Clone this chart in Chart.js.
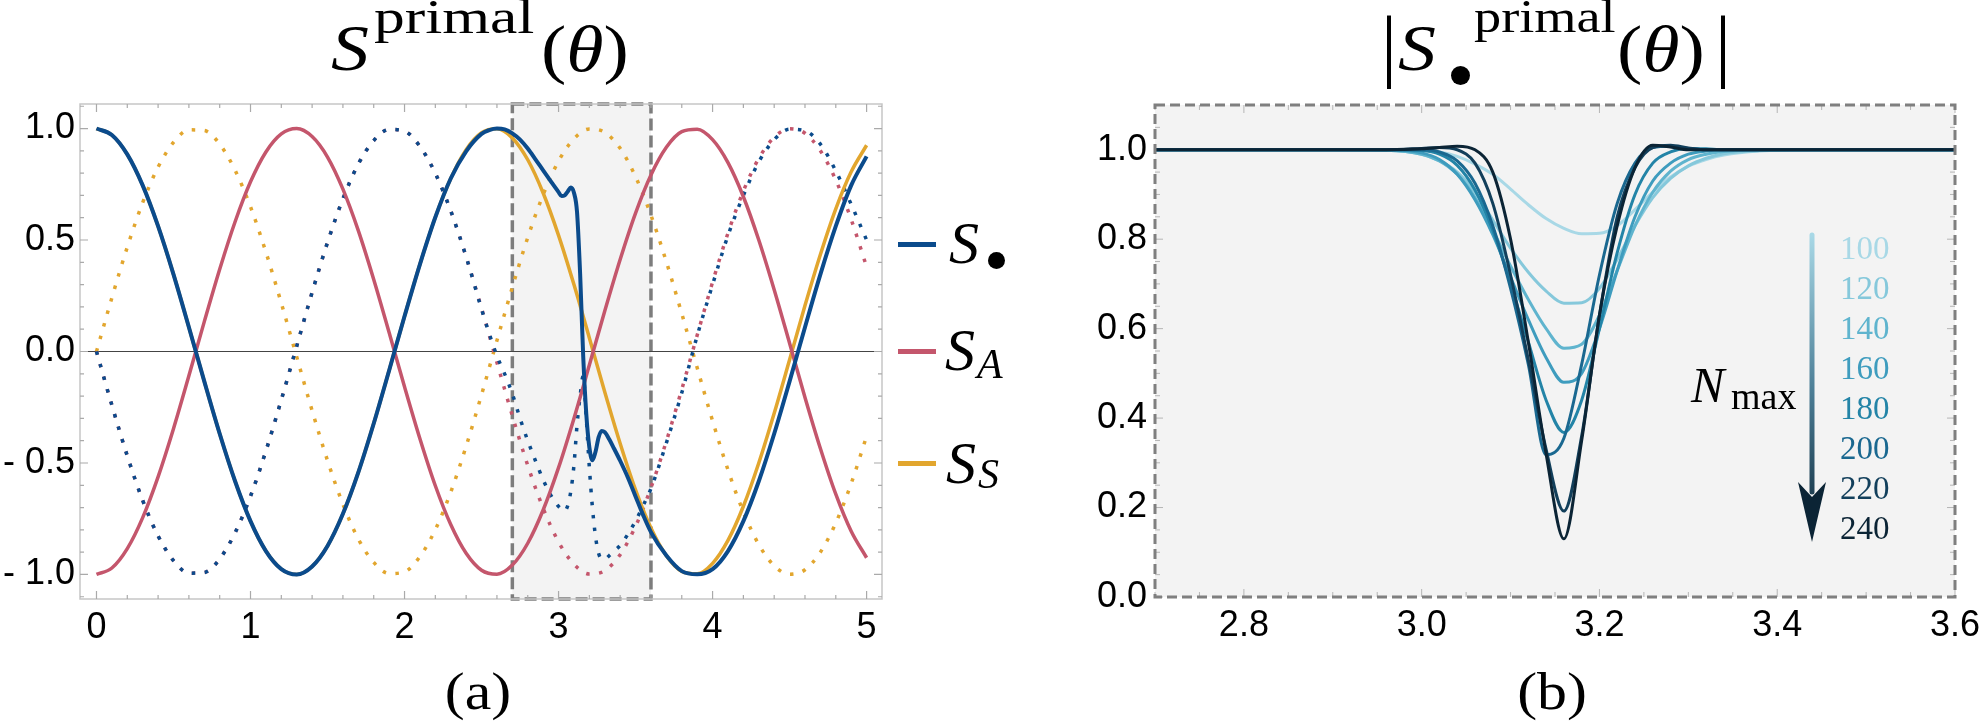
<!DOCTYPE html>
<html>
<head>
<meta charset="utf-8">
<script src="https://cdn.jsdelivr.net/npm/chart.js@4/dist/chart.umd.min.js"></script>
<style>
  body { margin: 0; background: #fff; width: 1979px; height: 727px; overflow: hidden; position: relative; font-family: "Liberation Serif", serif; }
  canvas { position: absolute; top: 0; }
  #cA { left: 0; }
  #cB { left: 1000px; }
  .m { position: absolute; white-space: nowrap; line-height: 1; color: #000; transform-origin: left top; }
  .m i { font-style: italic; }
  .dot { position: absolute; border-radius: 50%; background: #000; }
  .key { position: absolute; height: 5px; width: 38px; }
</style>
</head>
<body>
<canvas id="cA" width="1000" height="727"></canvas>
<canvas id="cB" width="979" height="727"></canvas>
<script>
// ---- panel (a): S^primal(theta) ----
const theta = [0, 0.1, 0.2, 0.3, 0.4, 0.5, 0.6, 0.7, 0.8, 0.9, 1, 1.1, 1.2, 1.3, 1.4, 1.5, 1.6, 1.7, 1.8, 1.9,
  2, 2.1, 2.2, 2.3, 2.4, 2.5, 2.6, 2.7, 2.8, 2.9, 3, 3.1, 3.2, 3.3, 3.4, 3.5, 3.6, 3.7, 3.8, 3.9,
  4, 4.1, 4.2, 4.3, 4.4, 4.5, 4.6, 4.7, 4.8, 4.9, 5];
// S_S (solid = Re, dotted = Im)
const sS_re = [1.000, 0.971, 0.884, 0.745, 0.562, 0.346, 0.109, -0.134, -0.369, -0.582, -0.761,
  -0.895, -0.976, -1.000, -0.964, -0.872, -0.728, -0.542, -0.323, -0.085, 0.158,
  0.391, 0.602, 0.776, 0.905, 0.981, 0.999, 0.958, 0.860, 0.711, 0.521,
  0.300, 0.061, -0.182, -0.413, -0.621, -0.792, -0.916, -0.986, -0.997, -0.950,
  -0.847, -0.694, -0.500, -0.277, -0.037, 0.206, 0.435, 0.640, 0.806, 0.925];
const sS_im = [0.000, 0.241, 0.468, 0.668, 0.827, 0.938, 0.994, 0.991, 0.930, 0.813, 0.649,
  0.446, 0.217, -0.024, -0.265, -0.489, -0.685, -0.841, -0.946, -0.996, -0.988,
  -0.920, -0.799, -0.631, -0.425, -0.194, 0.049, 0.288, 0.511, 0.703, 0.854,
  0.954, 0.998, 0.983, 0.911, 0.784, 0.611, 0.402, 0.170, -0.073, -0.311,
  -0.531, -0.720, -0.866, -0.961, -0.999, -0.979, -0.900, -0.769, -0.592, -0.380];
// S_A
const sA_re = [-1.000, -0.971, -0.884, -0.745, -0.562, -0.346, -0.109, 0.134, 0.369, 0.582, 0.761,
  0.895, 0.976, 1.000, 0.964, 0.872, 0.728, 0.542, 0.323, 0.085, -0.158,
  -0.391, -0.602, -0.776, -0.905, -0.981, -0.999, -0.958, -0.860, -0.711, -0.521,
  -0.300, -0.061, 0.182, 0.413, 0.621, 0.792, 0.916, 0.986, 0.997, 0.950,
  0.847, 0.694, 0.500, 0.277, 0.037, -0.206, -0.435, -0.640, -0.806, -0.925];
const sA_im = [0.000, -0.241, -0.468, -0.668, -0.827, -0.938, -0.994, -0.991, -0.930, -0.813, -0.649,
  -0.446, -0.217, 0.024, 0.265, 0.489, 0.685, 0.841, 0.946, 0.996, 0.988,
  0.920, 0.799, 0.631, 0.425, 0.194, -0.049, -0.288, -0.511, -0.703, -0.854,
  -0.954, -0.998, -0.983, -0.911, -0.784, -0.611, -0.402, -0.170, 0.073, 0.311,
  0.531, 0.720, 0.866, 0.961, 0.999, 0.979, 0.900, 0.769, 0.592, 0.380];
// S_bullet, sampled finer inside the zoom window
const thetaDot = [0, 0.1, 0.2, 0.3, 0.4, 0.5, 0.6, 0.7, 0.8, 0.9, 1, 1.1, 1.2, 1.3, 1.4, 1.5, 1.6, 1.7, 1.8, 1.9,
  2, 2.1, 2.2, 2.3, 2.4, 2.5, 2.55, 2.6, 2.65, 2.7, 2.75, 2.8, 2.85, 2.9, 2.95, 3,
  3.02, 3.04, 3.06, 3.08, 3.1, 3.12, 3.14, 3.16, 3.18, 3.2, 3.22, 3.24, 3.26, 3.28, 3.3,
  3.33, 3.36, 3.4, 3.45, 3.5, 3.55, 3.6, 3.7, 3.8, 3.9, 4, 4.1, 4.2, 4.3, 4.4, 4.5, 4.6, 4.7, 4.8, 4.9, 5];
const sDot_re = [1.000, 0.971, 0.884, 0.745, 0.562, 0.346, 0.109, -0.134, -0.369, -0.582, -0.761,
  -0.895, -0.976, -1.000, -0.964, -0.872, -0.728, -0.542, -0.323, -0.085, 0.158,
  0.391, 0.602, 0.776, 0.898, 0.976,
  0.993, 1.000, 0.996, 0.978, 0.950, 0.910, 0.862, 0.812, 0.763, 0.715,
  0.697, 0.700, 0.718, 0.735, 0.712, 0.625, 0.350, -0.020, -0.280, -0.430, -0.488, -0.450, -0.385, -0.356, -0.362,
  -0.395, -0.435, -0.490, -0.565, -0.650, -0.735, -0.810,
  -0.915, -0.985, -0.999, -0.976,
  -0.895, -0.761, -0.582, -0.369, -0.134, 0.109, 0.346, 0.562, 0.745, 0.875];
const sDot_im = [0.000, -0.241, -0.468, -0.668, -0.827, -0.938, -0.994, -0.991, -0.930, -0.813, -0.649,
  -0.446, -0.217, 0.024, 0.265, 0.489, 0.685, 0.841, 0.946, 0.996, 0.988,
  0.920, 0.799, 0.631, 0.425, 0.190,
  0.080, -0.020, -0.100, -0.190, -0.300, -0.400, -0.490, -0.575, -0.645, -0.695,
  -0.708, -0.715, -0.690, -0.625, -0.510, -0.330, -0.200, -0.110, -0.300, -0.520, -0.700, -0.830, -0.905, -0.930, -0.930,
  -0.915, -0.895, -0.870, -0.820, -0.760, -0.690, -0.615,
  -0.410, -0.185, 0.070, 0.300,
  0.520, 0.700, 0.850, 0.950, 0.997, 0.990, 0.930, 0.810, 0.660, 0.500];
const zoomWindow = [2.7, 3.6];
const xTicksA = [0, 1, 2, 3, 4, 5];
const xLabelsA = ["0", "1", "2", "3", "4", "5"];
const yTicksA = [-1, -0.5, 0, 0.5, 1];
const yLabelsA = ["- 1.0", "- 0.5", "0.0", "0.5", "1.0"];

// ---- panel (b): |S_bullet^primal(theta)| for several N_max ----
const thetaN = [2.7, 2.8, 2.9, 2.96, 3, 3.02, 3.04, 3.06, 3.08, 3.1, 3.12, 3.14, 3.16, 3.18, 3.2,
  3.22, 3.24, 3.26, 3.28, 3.3, 3.32, 3.34, 3.38, 3.44, 3.5, 3.6];
const n100 = [1, 1, 1, 0.999, 0.998, 0.995, 0.985, 0.968, 0.945, 0.912, 0.877, 0.846, 0.824, 0.812, 0.813, 0.830, 0.866, 0.905, 0.939, 0.963, 0.978, 0.988, 0.997, 1, 1, 1];
const n120 = [1, 1, 1, 0.999, 0.99, 0.975, 0.95, 0.905, 0.843, 0.78, 0.726, 0.684, 0.657, 0.658, 0.69, 0.755, 0.83, 0.893, 0.936, 0.964, 0.981, 0.991, 0.998, 1, 1, 1];
const n140 = [1, 1, 1, 0.999, 0.99, 0.975, 0.945, 0.893, 0.82, 0.74, 0.665, 0.6, 0.556, 0.565, 0.63, 0.73, 0.83, 0.905, 0.952, 0.978, 0.99, 0.996, 1, 1, 1, 1];
const n160 = [1, 1, 1, 1, 0.993, 0.978, 0.945, 0.888, 0.81, 0.715, 0.62, 0.535, 0.48, 0.5, 0.6, 0.73, 0.85, 0.93, 0.97, 0.99, 0.997, 1, 1, 1, 1, 1];
const n180 = [1, 1, 1, 1, 0.998, 0.99, 0.965, 0.91, 0.82, 0.7, 0.57, 0.44, 0.368, 0.44, 0.6, 0.77, 0.9, 0.97, 0.995, 1.003, 1.002, 1, 1, 1, 1, 1];
const n200 = [1, 1, 1, 1, 1, 0.995, 0.975, 0.925, 0.83, 0.69, 0.52, 0.318, 0.355, 0.52, 0.72, 0.88, 0.97, 1.005, 1.008, 1.003, 1, 1, 1, 1, 1, 1];
const n220 = [1, 1, 1, 1, 1.003, 1.005, 1.0, 0.97, 0.88, 0.72, 0.53, 0.33, 0.192, 0.36, 0.63, 0.85, 0.96, 1.005, 1.01, 1.004, 1, 1, 1, 1, 1, 1];
const n240 = [1, 1, 1, 1, 1.002, 1.005, 1.008, 1.0, 0.95, 0.8, 0.57, 0.32, 0.13, 0.35, 0.63, 0.83, 0.96, 1.01, 1.006, 1.0, 1, 1, 1, 1, 1, 1];
const nSeries = [n100, n120, n140, n160, n180, n200, n220, n240];
const nLabels = ["100", "120", "140", "160", "180", "200", "220", "240"];
const nColors = ["#a8d8e6", "#85c8db", "#5fb4ce", "#3e9cbe", "#2384a7", "#1a6890", "#123f5b", "#0b2435"];
const xTicksB = [2.8, 3.0, 3.2, 3.4, 3.6];
const xLabelsB = ["2.8", "3.0", "3.2", "3.4", "3.6"];
const yTicksB = [0, 0.2, 0.4, 0.6, 0.8, 1.0];
const yLabelsB = ["0.0", "0.2", "0.4", "0.6", "0.8", "1.0"];

const BLUE = "#0b4b8c", RED = "#c4566c", GOLD = "#e2a62e";
const TICK_FONT = { family: "Liberation Sans", size: 36 };
const DOTS = [3.5, 9.5];

const pts = (xs, ys) => xs.map((v, i) => ({ x: v, y: ys[i] }));

function tickRange(from, to, step) {
  const out = [];
  for (let v = from; v <= to + 1e-9; v += step) out.push(Math.round(v * 1000) / 1000);
  return out;
}

// frame with inward ticks, Mathematica style
function drawTicks(ctx, a, x, y, xMaj, xMin, yMaj, yMin, big, small) {
  ctx.beginPath();
  xMin.forEach(v => {
    const px = x.getPixelForValue(v);
    const l = xMaj.some(t => Math.abs(t - v) < 1e-6) ? big : small;
    ctx.moveTo(px, a.bottom); ctx.lineTo(px, a.bottom - l);
    ctx.moveTo(px, a.top); ctx.lineTo(px, a.top + l);
  });
  yMin.forEach(v => {
    const py = y.getPixelForValue(v);
    const l = yMaj.some(t => Math.abs(t - v) < 1e-6) ? big : small;
    ctx.moveTo(a.left, py); ctx.lineTo(a.left + l, py);
    ctx.moveTo(a.right, py); ctx.lineTo(a.right - l, py);
  });
  ctx.stroke();
}

const panelA = {
  id: "panelA",
  beforeDatasetsDraw(chart) {
    const { ctx, chartArea: a, scales: { x, y } } = chart;
    const x0 = x.getPixelForValue(zoomWindow[0]), x1 = x.getPixelForValue(zoomWindow[1]);
    ctx.save();
    ctx.fillStyle = "#f3f3f3";
    ctx.fillRect(x0, a.top, x1 - x0, a.bottom - a.top);
    ctx.strokeStyle = "#7d7d7d";
    ctx.lineWidth = 3.5;
    ctx.setLineDash([12, 5]);
    ctx.strokeRect(x0, a.top, x1 - x0, a.bottom - a.top);
    ctx.setLineDash([]);
    // zero line
    ctx.strokeStyle = "#444";
    ctx.lineWidth = 1.2;
    const y0 = y.getPixelForValue(0);
    ctx.beginPath(); ctx.moveTo(a.left, y0); ctx.lineTo(a.right, y0); ctx.stroke();
    ctx.restore();
  },
  afterDatasetsDraw(chart) {
    const { ctx, chartArea: a, scales: { x, y } } = chart;
    ctx.save();
    ctx.strokeStyle = "#c6c6c6";
    ctx.lineWidth = 1.5;
    ctx.strokeRect(a.left, a.top, a.right - a.left, a.bottom - a.top);
    ctx.strokeStyle = "#aaaaaa";
    ctx.lineWidth = 1.2;
    drawTicks(ctx, a, x, y, xTicksA, tickRange(0, 5, 0.2), yTicksA, tickRange(-1.1, 1.1, 0.1), 8, 4);
    ctx.restore();
  }
};

const panelB = {
  id: "panelB",
  beforeDatasetsDraw(chart) {
    const { ctx, chartArea: a, scales: { x, y } } = chart;
    ctx.save();
    ctx.fillStyle = "#f3f3f3";
    ctx.fillRect(a.left, a.top, a.right - a.left, a.bottom - a.top);
    ctx.strokeStyle = "#b5b5b5";
    ctx.lineWidth = 1;
    drawTicks(ctx, a, x, y, xTicksB, tickRange(2.7, 3.6, 0.05), yTicksB, tickRange(0, 1.1, 0.05), 8, 5);
    ctx.restore();
  },
  afterDatasetsDraw(chart) {
    const { ctx, chartArea: a } = chart;
    ctx.save();
    ctx.strokeStyle = "#7f7f7f";
    ctx.lineWidth = 3;
    ctx.setLineDash([10, 5]);
    ctx.strokeRect(a.left, a.top, a.right - a.left, a.bottom - a.top);
    ctx.setLineDash([]);
    // N_max arrow, light to dark
    const ax = a.left + 657, top = a.top + 130, tip = a.top + 437;
    const g = ctx.createLinearGradient(0, top, 0, tip);
    g.addColorStop(0, nColors[0]);
    g.addColorStop(0.5, "#4d7f97");
    g.addColorStop(1, nColors[7]);
    ctx.strokeStyle = g;
    ctx.lineWidth = 5;
    ctx.lineCap = "round";
    ctx.beginPath(); ctx.moveTo(ax, top); ctx.lineTo(ax, tip - 50); ctx.stroke();
    ctx.fillStyle = nColors[7];
    ctx.beginPath();
    ctx.moveTo(ax, tip);
    ctx.lineTo(ax - 14, tip - 60);
    ctx.lineTo(ax, tip - 45);
    ctx.lineTo(ax + 14, tip - 60);
    ctx.closePath();
    ctx.fill();
    ctx.restore();
  }
};

function axis(min, max, ticks, labels, isY, size, pad) {
  return {
    type: "linear", min: min, max: max,
    grid: { display: false, drawTicks: false },
    border: { display: false },
    afterBuildTicks: s => { s.ticks = ticks.map(v => ({ value: v })); },
    afterFit: s => {
      if (isY) { s.width = size; s.paddingTop = 0; s.paddingBottom = 0; }
      else { s.height = size; s.paddingLeft = 0; s.paddingRight = 0; }
    },
    ticks: { callback: (v, i) => labels[i], font: TICK_FONT, color: "#000", padding: pad, maxRotation: 0, autoSkip: false }
  };
}

const common = {
  responsive: false, animation: false, devicePixelRatio: 1, events: [],
  elements: { point: { radius: 0 }, line: { cubicInterpolationMode: "monotone", fill: false, borderCapStyle: "butt" } },
  plugins: { legend: { display: false }, tooltip: { enabled: false } }
};

new Chart(document.getElementById("cA"), {
  type: "line",
  data: {
    datasets: [
      { data: pts(thetaDot, sDot_re), borderColor: BLUE, borderWidth: 4, order: 0 },
      { data: pts(theta, sA_re), borderColor: RED, borderWidth: 3.5, order: 1 },
      { data: pts(theta, sS_re), borderColor: GOLD, borderWidth: 3.5, order: 2 },
      { data: pts(thetaDot, sDot_im), borderColor: BLUE, borderWidth: 3.5, borderDash: DOTS, order: 3 },
      { data: pts(theta, sA_im), borderColor: RED, borderWidth: 3.5, borderDash: DOTS, order: 4 },
      { data: pts(theta, sS_im), borderColor: GOLD, borderWidth: 3.5, borderDash: DOTS, order: 5 }
    ]
  },
  options: Object.assign({}, common, {
    layout: { padding: { left: 0, top: 104, right: 118, bottom: 88 } },
    scales: {
      x: axis(-0.107, 5.1, xTicksA, xLabelsA, false, 40, 7),
      y: axis(-1.11, 1.11, yTicksA, yLabelsA, true, 80, 5)
    }
  }),
  plugins: [panelA]
});

new Chart(document.getElementById("cB"), {
  type: "line",
  data: {
    datasets: nSeries.map((s, i) => ({
      data: pts(thetaN, s), borderColor: nColors[i], borderWidth: 3, order: nSeries.length - i
    }))
  },
  options: Object.assign({}, common, {
    layout: { padding: { left: 75, top: 105, right: 24, bottom: 90 } },
    scales: {
      x: axis(2.7, 3.6, xTicksB, xLabelsB, false, 40, 7),
      y: axis(0, 1.1, yTicksB, yLabelsB, true, 80, 8)
    }
  }),
  plugins: [panelB]
});

// ---- math text (titles, legend, captions) ----
function put(html, x, base, size, o) {
  o = o || {};
  const d = document.createElement("div");
  d.className = "m";
  d.innerHTML = html;
  d.style.fontSize = size + "px";
  d.style.left = x + "px";
  d.style.top = (base - 0.8375 * size) + "px";
  if (o.color) d.style.color = o.color;
  const sx = o.sx || 1;
  if (o.center) { d.style.transformOrigin = "center"; d.style.transform = "translateX(-50%) scaleX(" + sx + ")"; }
  else d.style.transform = "scaleX(" + sx + ")";
  document.body.appendChild(d);
}
function dot(cx, cy, r) {
  const d = document.createElement("div");
  d.className = "dot";
  d.style.left = (cx - r) + "px"; d.style.top = (cy - r) + "px";
  d.style.width = d.style.height = (2 * r) + "px";
  document.body.appendChild(d);
}
function key(y, color) {
  const d = document.createElement("div");
  d.className = "key";
  d.style.left = "898px"; d.style.top = (y - 2.5) + "px";
  d.style.background = color;
  document.body.appendChild(d);
}

// title (a)
put("<i>S</i>", 331, 70, 66, { sx: 1.15 });
put("primal", 374, 33, 48, { sx: 1.28 });
put("(<i>θ</i>)", 541, 71, 66, { sx: 1.15 });
// title (b)
put("|", 1381, 72, 80);
put("<i>S</i>", 1398, 70, 66, { sx: 1.15 });
dot(1460, 75, 9.5);
put("primal", 1474, 33, 46, { sx: 1.18 });
put("(<i>θ</i>)", 1617, 71, 66, { sx: 1.15 });
put("|", 1715, 72, 80);

// legend of (a)
key(244, BLUE); key(351, RED); key(463, GOLD);
put("<i>S</i>", 949, 263, 60);
dot(996, 260, 8.5);
put("<i>S</i>", 945, 370, 60);
put("<i>A</i>", 977, 378, 42);
put("<i>S</i>", 946, 483, 60);
put("<i>S</i>", 978, 488, 42);

// captions
put("(a)", 478, 710, 52, { center: true, sx: 1.15 });
put("(b)", 1552, 710, 52, { center: true, sx: 1.15 });

// N_max key of (b)
put("<i>N</i>", 1691, 402, 50);
put("max", 1731, 409, 38);
nLabels.forEach((t, i) => put(t, 1840, 260 + 40 * i, 33, { color: nColors[i] }));
</script>
</body>
</html>
